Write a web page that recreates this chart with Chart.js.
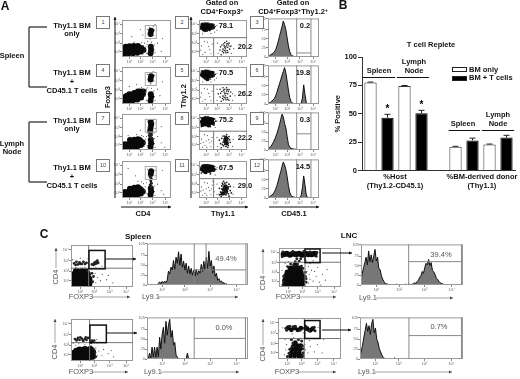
<!DOCTYPE html>
<html>
<head>
<meta charset="utf-8">
<title>Flow cytometry panels</title>
<script src="https://cdn.jsdelivr.net/npm/chart.js@4"></script>
<style>
  html, body { margin: 0; padding: 0; background: #fff; }
  #page { position: relative; width: 520px; height: 379px; overflow: hidden; filter: blur(.4px); font-family: "Liberation Sans", Arial, sans-serif; color: #111; }
  #page canvas { position: absolute; }
  #page svg { position: absolute; left: 0; top: 0; }
  .t { position: absolute; white-space: nowrap; transform: translate(-50%, -50%); font-weight: bold; font-size: 7.5px; line-height: 1; }
  .t sup { font-size: 5px; vertical-align: 2px; line-height: 0; }
  .big { font-size: 12px; }
  .c8 { font-size: 8px; }
  .thin { font-weight: normal; color: #555; font-size: 7.5px; }
  .rot { transform: translate(-50%, -50%) rotate(-90deg); }
  .box { position: absolute; width: 14px; height: 13px; border: 1px solid #777; box-sizing: border-box; font-size: 5.5px; text-align: center; line-height: 11px; color: #444; background: #fff; }
</style>
</head>
<body>
<div id="page"></div>
<script>
// ---- panel B ----
const barCategories = ['Spleen', 'Spleen', 'Lymph Node', 'Lymph Node', '', 'Spleen', 'Spleen', 'Lymph Node', 'Lymph Node'];
const bmOnly = [77.5, null, 74.5, null, null, 21, null, 23, null];
const bmTcells = [null, 46.5, null, 50.5, null, null, 26.5, null, 29];
const barErrors = [0.4, 3, 0.4, 2.5, 0, 0.3, 2, 0.3, 2];
const barStars = [1, 3];
const barTicks = [0, 25, 50, 75, 100];

// ---- decades on the flow axes ----
const decadeTicks = [0.6, 1.5, 2.5, 3.55];
const decadeLabels = ['10¹', '10²', '10³', '10⁴'];

// ---- panel A, CD4 vs Foxp3 ----
const a1Heavy = [[.2,.35],[.25,.75],[.3,1.1],[.55,.4],[.6,.8],[.6,1.15],[.9,.4],[.95,.8],[.95,1.2],[1.25,.45],[1.25,.85],[1.3,1.2],[1.55,.6],[1.6,.95],[.4,.55],[.75,.6],[1.1,.6],[1.4,.7],[.4,.95],[.78,1],[1.1,1],[1.45,1],[1.75,.75],[2.33,.4],[2.38,.75],[2.35,1.1],[2.33,2.5],[2.38,2.85]];
const a1Light = [[1.7,.3],[1.8,.55],[1.9,.8],[1.75,1.2],[1.95,1.1],[2,.4],[2.05,1.35],[1.85,1.5],[1.6,1.55],[2.1,1.7],[2.6,.8],[2.7,.5],[2.65,1.3],[2.4,1.6],[2.3,1.95],[2.15,2.4],[2.6,2.3],[2.65,2.9],[2.1,3],[2.25,3.2],[2.55,3.3],[2.7,3.5],[1.7,2.4],[1,1.6],[3.2,.6],[3.3,2],[1.5,3],[.8,2.2],[2.9,1.5],[2.2,1.1]];
const a2Heavy = [[.2,.35],[.25,.75],[.55,.35],[.6,.8],[.6,1.05],[.9,.4],[.95,.85],[1,1.2],[1.25,.5],[1.25,.95],[1.3,1.35],[1.55,.7],[1.55,1.35],[.4,.55],[.75,.6],[1.1,.7],[1.4,.75],[.4,.9],[.8,1],[1.12,1.1],[1.45,1.1],[1.7,1.05],[1.75,1.35],[2.33,.35],[2.38,.75],[2.35,1.05],[2.33,2.65],[2.38,3]];
const a2Light = [[1.75,.5],[1.85,.85],[1.9,1.25],[1.75,1.6],[2,.4],[2,1.6],[2.1,1.75],[1.6,1.8],[1.4,1.7],[2.65,.8],[2.7,.4],[2.6,1.4],[2.4,1.7],[2.3,2.05],[2.15,2.4],[2.6,2.5],[2.65,3.1],[2.1,3.2],[2.25,3.4],[2.55,3.5],[2.35,2.2],[1.2,2.1],[3.1,.9],[3.3,2.4],[.6,1.9],[2.9,1.6]];
const a3Heavy = [[.2,.3],[.25,.65],[.55,.3],[.6,.7],[.65,1.1],[.9,.35],[.95,.75],[1,1.15],[1.25,.4],[1.25,.8],[1.3,1.2],[1.55,.55],[1.55,.95],[.4,.5],[.75,.5],[1.1,.6],[1.4,.65],[.8,.95],[1.15,1],[1.45,1.1],[1.7,.8],[2.33,.35],[2.38,.75],[2.35,1.15],[2.33,2.45],[2.38,2.8],[2.35,3.1],[2.3,2.1]];
const a3Mid = [[2.3,1.5],[2.4,1.7],[2.35,1.9],[2.4,1.35],[2.25,1.65]];
const a3Light = [[1.8,.4],[1.85,.8],[1.9,1.2],[1.75,1.5],[2.05,.5],[2,1.5],[2.05,1.9],[1.6,1.6],[1.2,1.7],[2.65,.7],[2.7,.3],[2.65,1.3],[2.6,1.9],[2.15,2.5],[2.7,2.4],[2.7,3],[2.1,3.2],[2.6,3.4],[1.5,2.2],[3.2,.8],[3.2,2.6],[.5,1.6],[2.9,1.5],[3.5,.3]];
const a4Heavy = [[.2,.3],[.25,.65],[.55,.3],[.6,.7],[.65,1],[.9,.35],[.95,.75],[1,1.1],[1.25,.35],[1.25,.8],[1.3,1.15],[1.55,.5],[1.55,.9],[.4,.5],[.75,.5],[1.1,.55],[1.4,.6],[.8,.95],[1.15,.95],[1.45,1],[1.7,.7],[2.33,.35],[2.38,.7],[2.35,1.05],[2.35,2.6],[2.38,2.9]];
const a4Mid = [[2.3,1.4],[2.4,1.6],[2.35,1.85],[2.38,2.1],[2.3,2.3],[2.4,1.2]];
const a4Light = [[1.75,.4],[1.85,.8],[1.9,1.2],[1.75,1.55],[2.05,.5],[2,1.65],[2.05,2],[1.6,1.75],[1.3,1.8],[2.65,.7],[2.7,.3],[2.65,1.3],[2.6,2],[2.15,2.4],[2.7,2.4],[2.7,3],[2.1,3.1],[2.6,3.4],[1.1,2.4],[3.2,.8],[3.3,3],[.5,3.2],[2.9,1.5],[3.4,.4]];

// ---- panel A, Thy1.1 vs Thy1.2 ----
const b1Heavy = [[.25,3.2],[.35,3.45],[.4,3],[.5,3.3],[.6,3.5],[.65,3.1],[.75,3.3],[.85,3.05],[.9,3.45],[1,3.25],[1.1,3.4],[.55,2.95],[.3,3.5],[.45,3.15],[.7,3.4],[.95,3.15],[1.15,3.2]];
const b1Mid = [[.15,3],[.2,3.6],[.45,2.75],[.7,2.8],[1.2,3.15],[1.25,3.5],[1.35,3.3],[.9,2.85],[1.05,3],[.75,3.7],[.5,3.7],[2.1,1.2],[2.2,.9],[2.3,1.3],[2.15,1.55],[2.35,.7],[2,.85],[2.4,1.05],[2.25,.45],[1.9,1.3],[2.5,1.5],[2.55,.85],[2.05,.45],[2.3,1.7],[1.75,.75],[1.85,.25],[2.15,1.05],[2.25,1.1],[2.05,1.4],[2.4,.5],[2.2,.65],[1.95,.6],[2.45,1.3],[2.1,.7],[1.8,1.1],[2.35,1.45],[2.6,1.15]];
const b1Light = [[.2,1.2],[.5,.5],[.7,1.6],[.9,.8],[1.1,1.4],[.3,.3],[.45,1.7],[1,.35],[.8,1.15],[.15,.75],[1.55,1.5],[1.6,.4],[2.7,.4],[2.7,1.2],[2.9,.9],[1.5,3.4],[1.5,2.9],[.1,3.4],[1.3,2.7],[.3,2.5],[1,2.55]];
const b2Heavy = [[.25,3.15],[.35,3.45],[.4,3],[.5,3.3],[.6,3.5],[.65,3.05],[.75,3.3],[.85,3],[.9,3.4],[1,3.2],[1.1,3.35],[.55,2.9],[.7,2.7],[.45,3.15],[.7,3.45],[.95,3.05],[1.15,3.1]];
const b2Mid = [[.15,3.1],[.2,3.55],[.45,2.7],[.95,2.7],[1.2,3.1],[1.25,3.45],[1.35,3.2],[1.1,2.9],[.75,3.65],[.5,3.65],[2.1,1.3],[2.2,.9],[2.3,1.4],[2.15,1.6],[2.35,.7],[2,.85],[2.4,1.1],[2.25,.45],[1.9,1.35],[2.5,1.55],[2.6,.85],[2.05,.45],[2.3,1.75],[1.75,.75],[1.85,.3],[1.75,1.6],[2.65,1.3],[2,1.75],[2.5,.4],[1.6,1.1],[2.15,1.1],[2.25,1.15],[2.05,1.5],[2.4,.5],[2.2,.65],[1.95,.6],[2.45,1.35],[2.1,.7],[1.8,1.15],[2.35,1.55]];
const b2Light = [[.2,1.2],[.5,.5],[.7,1.6],[.9,.8],[1.1,1.4],[.3,.3],[.45,1.7],[1,.35],[.8,1.15],[.15,.75],[1.5,1.6],[1.5,.4],[2.8,.4],[2.8,1.1],[3,.9],[1.5,3.3],[1.45,2.8],[.1,3.4],[1.3,2.6],[.3,2.4],[1,2.4]];
const b3Heavy = [[.25,3.15],[.35,3.45],[.4,3],[.5,3.3],[.6,3.5],[.65,3.05],[.75,3.3],[.85,3],[.9,3.45],[1,3.2],[1.1,3.4],[.55,2.85],[.3,2.8],[1.15,3],[.8,2.75],[.45,3.15],[.7,3.45],[.95,3.05],[2.2,1],[2.3,.75],[2.25,1.3]];
const b3Mid = [[.15,3.6],[.2,2.6],[.95,2.6],[1.25,2.75],[1.3,3.45],[1.4,3.2],[.75,3.7],[.5,3.7],[2.1,1.2],[2.2,.9],[2.3,1.35],[2.15,1.55],[2.35,.7],[2,.85],[2.4,1.05],[2.25,.4],[1.9,1.3],[2.5,1.5],[2.6,.85],[2.05,.45],[2.3,1.7],[1.8,.7],[1.85,.25],[2.45,.5],[2.15,.65],[2.1,1],[2.35,1.15],[2.25,.7],[1.95,.6],[2.45,1.3],[2,1.55],[2.55,1.15],[1.7,1.1],[2.4,.3]];
const b3Light = [[.2,1.2],[.5,.5],[.7,1.6],[.9,.8],[1.1,1.4],[.3,.3],[.45,1.7],[1,.35],[.8,1.15],[.15,.75],[.6,1],[.35,.85],[1.05,1],[.65,.3],[1.5,1.4],[1.55,.4],[2.8,.4],[2.85,1.2],[1.5,3.2],[.1,3.3],[1.35,2.5]];
const b4Heavy = [[.25,3.1],[.35,3.4],[.4,2.95],[.5,3.25],[.6,3.45],[.65,3],[.75,3.25],[.85,2.95],[.9,3.4],[1,3.15],[1.1,3.35],[.55,2.8],[1.2,3.05],[.45,3.1],[.7,3.4],[.95,3],[2.1,.95],[2.25,.7],[2.2,1.25],[2,.5],[2.3,1.05]];
const b4Mid = [[.15,3.25],[.2,2.7],[.95,2.6],[1.3,3.4],[1.4,3.1],[.75,3.6],[.45,3.6],[2.1,1.2],[2.2,.8],[2.3,1.3],[2.15,1.6],[2.35,.6],[2,.8],[2.4,1],[2.25,.35],[1.9,1.3],[2.5,1.5],[2.6,.8],[2.05,.4],[2.3,1.7],[1.8,.65],[1.85,.2],[2.45,.45],[2.15,.6],[2.1,1],[2.35,1.1],[2.25,.75],[1.7,1.05],[1.95,1.6],[2.6,1.25],[1.7,.35],[2.5,.2],[2.7,.55],[2.05,1.8],[1.9,.95],[2.45,1.2],[1.8,.4],[2,1.45]];
const b4Light = [[.2,1.2],[.5,.5],[.7,1.6],[.9,.8],[1.1,1.4],[.3,.3],[.45,1.7],[1,.35],[.8,1.15],[.15,.75],[.6,1],[.35,.85],[1.05,1],[.65,.3],[1.5,1.5],[1.5,.4],[2.85,.4],[2.9,1.2],[1.5,3.3],[.1,3.4],[1.35,2.5],[1.25,.7],[1.15,1.8]];

// ---- panel C, FOXP3 vs CD4 ----
const c1Heavy = [[.15,.3],[.2,.75],[.25,1.2],[.5,.25],[.5,.7],[.5,1.15],[.85,.25],[.85,.7],[.85,1.2],[1.15,.3],[1.15,.75],[.35,1.5],[.7,1.5],[.33,.5],[.33,.95],[.68,.5],[.68,.95],[1,.5],[1,.95],[1.05,1.2],[.95,1.45]];
const c1Mid = [[.2,2.25],[.35,2.4],[.45,2.15],[.55,2.35],[.7,2.2],[.8,2.4],[.9,2.2],[1,2.3],[1.35,2.15],[1.5,2.3],[1.6,2.4],[1.7,2.5],[1.45,2.1],[1.75,2.3],[1.4,.5],[1.45,1],[1.35,1.3],[1.1,1.5],[.3,2.1],[.6,2.2],[1.55,2.2],[1.65,2.25]];
const c1Light = [[1.6,.4],[1.7,.9],[1.55,1.3],[1.9,.6],[2,1.2],[2.3,.7],[1.3,1.7],[.9,1.9],[.3,1.85],[2.4,1.1],[1.6,1.9],[2,2],[.1,2.6],[1.1,2.7],[.6,2.75],[2.7,.4],[2.2,2.4]];
const c2Heavy = [[.15,.3],[.2,.75],[.5,.25],[.5,.7],[.55,1.05],[.85,.25],[.85,.7],[.9,1.1],[1.15,.3],[1.2,.75],[1.25,1.1],[1.4,.45],[.33,.5],[.68,.5],[1,.5],[.35,.95],[.7,.9],[1.05,.9],[1.4,.85]];
const c2Mid = [[.25,2.1],[.35,1.95],[.45,2.2],[.55,2],[.7,2.15],[.8,1.9],[.9,2.1],[1,2],[1.1,2.2],[1.3,1.75],[1.4,1.85],[1.5,1.95],[1.35,1.95],[1.55,.8],[1.6,.4],[1.45,1.15],[.6,2.25],[.95,2.25],[.4,2.05],[.75,2]];
const c2Light = [[1.7,.5],[1.8,.95],[1.6,1.25],[2,.5],[2.1,1.1],[2.4,.7],[1.3,1.5],[.9,1.55],[.3,1.5],[2.6,1],[1.7,1.75],[.5,1.65],[1.2,2.4],[1.65,2.05],[2.75,.4],[.15,1.7]];
const c3Heavy = [[.3,3.35],[.5,3.4],[.7,3.3],[.9,3.4],[1.1,3.35],[1.3,3.4],[1.5,3.3],[1.7,3.4],[1.9,3.35],[2.1,3.35],[2.3,3.4],[.4,.3],[.65,.3],[.95,.3],[1.25,.3],[1.5,.3],[.4,.7],[.65,.7],[.95,.7],[1.25,.7],[1.5,.7],[.45,1.1],[.7,1.1],[1,1.1],[1.3,1.1],[1.5,1.1],[.55,1.5],[.8,1.5],[1.1,1.5],[1.4,1.5],[.75,1.9],[1.05,1.9],[1.3,1.9],[1.05,2.2]];
const c3Mid = [[.95,2.2],[1.2,2.35],[1.45,2.15],[1.05,2.6],[1.3,2.65],[1.15,2.9],[1.4,2.9],[.75,2.35],[1.55,1.9],[1.7,1.1],[1.75,.5],[.3,1.1],[.3,.55],[.55,2.1],[.25,3.6],[2.4,3.15],[1.6,3.65],[.9,3.65],[2,3.6],[2.45,3.55],[.2,3.1],[1.75,.85],[1.7,1.5],[.25,.2]];
const c3Light = [[1.9,.4],[2,.8],[1.95,1.3],[2.1,1.7],[1.9,2.1],[2.2,.6],[2.4,1.1],[2.6,.5],[2.3,1.6],[2.8,1.3],[1.8,1.6],[2,2.4],[1.75,2.7],[.6,2.6],[2.5,2],[3,.7],[.4,2.4],[3.1,1.8],[2.2,2.7],[.2,1.7],[2.7,.2]];
const c4Heavy = [[.65,3.05],[.85,2.85],[1.05,3.05],[1.25,2.85],[1.45,3],[1.85,2.95],[2.05,2.8],[2.2,2.95],[.8,.3],[1.05,.3],[1.3,.3],[1.5,.3],[.85,.6],[1.1,.6],[1.35,.6],[.9,.95],[1.15,.95],[1.4,.95],[1,1.3],[1.25,1.3],[1.45,1.3],[1.1,1.6]];
const c4Mid = [[.5,3],[.55,2.8],[.75,3.2],[1.1,3.2],[1.4,2.8],[2.3,3.1],[2.35,2.75],[1.75,3.2],[1.95,2.75],[.7,.55],[.6,.25],[.75,.95],[1.6,.6],[1.6,1],[1.55,.35],[1.55,1.3],[.9,1.25],[.95,1.55],[.85,1.9],[1.3,1.9],[1.5,1.75],[1.65,3],[.95,3.15]];
const c4Light = [[1.65,.4],[1.75,.9],[1.7,1.4],[1.9,.6],[2.05,1.2],[2,1.8],[2.3,.7],[.55,1.4],[.5,.9],[.45,1.9],[1,2.1],[1.4,2.05],[.4,.4],[2.5,1.4],[2.8,.6],[1.65,2],[.3,3.05],[1.6,2.55],[2.55,3.1],[.9,2.45],[2.9,1.9]];

// ---- histogram bins ----
const binsA = [0,.1,.2,.3,.4,.5,.6,.7,.8,.9,1,1.1,1.2,1.3,1.4,1.5,1.6,1.7,1.8,1.9,2,2.1,2.2,2.3,2.4,2.5,2.6,2.7,2.8,2.9,3,3.1,3.2,3.3,3.4,3.5,3.6,3.7,3.8,3.9,4];
const binsC = [0,.05,.1,.15,.2,.25,.3,.35,.4,.45,.5,.55,.6,.65,.7,.75,.8,.85,.9,.95,1,1.05,1.1,1.15,1.2,1.25,1.3,1.35,1.4,1.45,1.5,1.55,1.6,1.65,1.7,1.75,1.8,1.85,1.9,1.95,2,2.05,2.1,2.15,2.2,2.25,2.3,2.35,2.4,2.45,2.5,2.55,2.6,2.65,2.7,2.75,2.8,2.85,2.9,2.95,3,3.05,3.1,3.15,3.2,3.25,3.3,3.35,3.4,3.45,3.5,3.55,3.6,3.65,3.7,3.75,3.8,3.85,3.9,3.95,4];

// ---- panel A, CD45.1 ----
const histA1 = [0,3,6,8,10,14,20,30,42,56,70,82,98,88,74,52,30,15,7,3,2,1,0,0,0,0,0,0,0,0,0,0,0,0,0,0,0,0,0,0,0];
const histA2 = [0,3,5,8,11,15,22,32,44,55,66,78,88,99,84,62,38,18,7,3,1,0,0,0,0,0,1,16,52,26,4,1,0,0,0,0,0,0,0,0,0];
const histA3 = [3,6,9,14,20,28,36,46,58,70,86,100,92,74,62,38,16,8,5,4,3,2,2,1,1,0,0,0,0,0,0,0,0,0,0,0,0,0,0,0,0];
const histA4 = [0,3,6,8,11,16,24,34,46,60,72,86,98,90,78,58,34,16,7,4,3,2,1,1,1,2,6,28,60,36,8,2,1,0,0,0,0,0,0,0,0];

// ---- panel C, Ly9.1 ----
const histC1 = [0,0,0,0,0,0,0,0,0,4,8,3,9,5,10,6,12,35,28,45,38,62,40,70,55,84,50,78,45,60,38,55,30,48,28,42,25,38,22,40,26,36,30,52,34,60,38,70,42,85,48,62,30,48,22,30,12,16,8,10,4,6,2,3,0,0,0,0,0,0,0,0,0,0,0,0,0,0,0,0,0];
const histC2 = [0,0,15,0,30,5,30,4,30,6,55,25,62,80,40,95,60,85,100,55,72,35,42,10,5,0,0,0,0,0,0,0,15,0,0,0,0,0,0,0,0,0,0,0,0,0,0,0,0,0,0,0,0,0,0,0,0,0,0,0,0,0,0,0,0,0,0,0,0,0,0,0,0,0,0,0,0,0,0,0,0];
const histC3 = [12,30,45,58,72,52,88,60,78,58,75,92,62,72,42,40,24,15,9,4,3,2,1,1,1,0,1,1,2,1,1,0,1,1,1,2,1,2,2,1,2,3,6,4,9,12,20,24,35,30,45,56,52,66,50,58,38,34,28,18,15,10,6,4,3,1,1,0,0,0,0,0,0,0,0,0,0,0,0,0,0];
const histC4 = [8,20,35,55,72,90,70,84,62,88,100,66,78,50,42,26,18,10,4,2,1,0,0,0,0,0,0,3,0,0,0,0,0,0,0,0,0,0,0,0,0,0,0,0,0,0,0,0,0,0,0,0,0,0,0,0,0,0,0,0,0,0,0,0,0,0,0,0,0,0,0,0,0,0,0,0,0,0,0,0,0];

// gates in axis units: [x1, y1, x2, y2]
const gateCd4 = [[1.9,2],[2.8,3.4]];
const gateThy = [[0,2.09,4,2.09],[1.22,0,1.22,2.09]];
const gateCd45 = [[2.25,0,2.25,4],[3.37,0,3.37,4]];
const gateLyHigh = [[1.87,0,1.87,4],[2.34,1.5,2.34,4],[3.92,0,3.92,4],[1.87,1.45,3.92,1.45]];
const gateLyLow = [[1.87,0,1.87,4],[3.9,0,3.9,4],[1.87,1.98,3.9,1.98]];
const gateLyC3 = [[1.87,0,1.87,4],[3.94,0,3.94,4],[1.87,2.3,3.94,2.3]];
const gateLyC4 = [[1.9,0,1.9,4],[3.94,0,3.94,4],[1.9,2.25,3.94,2.25]];

const page = document.getElementById('page');

function newCanvas(x, y, w, h) {
  const c = document.createElement('canvas');
  c.width = w; c.height = h;
  c.style.left = x + 'px'; c.style.top = y + 'px';
  page.appendChild(c);
  return c;
}

function flowAxis(size, horizontal) {
  return {
    type: 'linear', min: 0, max: 4,
    afterBuildTicks: s => { s.ticks = decadeTicks.map(value => ({ value })); },
    afterFit: s => { if (horizontal) s.height = size; else s.width = size; },
    border: { display: false },
    grid: { drawOnChartArea: false, tickLength: 2, tickColor: '#555', tickWidth: .7 },
    ticks: {
      autoSkip: false, maxRotation: 0, padding: 0, color: '#666', font: { size: 4 },
      callback: (v, i) => decadeLabels[i]
    }
  };
}

// gray frame and gates, drawn through the panel's scales
const framePlugin = {
  id: 'frame',
  afterDatasetsDraw(chart, args, opts) {
    const { ctx, chartArea: a, scales: { x, y } } = chart;
    ctx.save();
    ctx.strokeStyle = '#9a9a9a';
    ctx.lineWidth = 1;
    ctx.strokeRect(a.left + .5, a.top + .5, a.width - 1, a.height - 1);
    ctx.strokeStyle = opts.color || '#777';
    ctx.lineWidth = 1;
    (opts.lines || []).forEach(l => {
      ctx.beginPath();
      ctx.moveTo(x.getPixelForValue(l[0]), y.getPixelForValue(l[1]));
      ctx.lineTo(x.getPixelForValue(l[2]), y.getPixelForValue(l[3]));
      ctx.stroke();
    });
    (opts.rects || []).forEach(r => {
      ctx.strokeStyle = opts.rectColor || '#999';
      ctx.lineWidth = opts.rectWidth || 1;
      ctx.strokeRect(x.getPixelForValue(r[0][0]), y.getPixelForValue(r[1][1]),
        x.getPixelForValue(r[1][0]) - x.getPixelForValue(r[0][0]),
        y.getPixelForValue(r[0][1]) - y.getPixelForValue(r[1][1]));
    });
    ctx.restore();
  }
};

function dotPlot(r, heavy, mid, light, sizes, gates) {
  const pts = a => a.map(p => ({ x: p[0], y: p[1] }));
  const cv = newCanvas(r[0] - 8, r[1] - 2, r[2] + 10, r[3] + 9);
  return new Chart(cv, {
    type: 'scatter',
    data: {
      datasets: [
        { data: pts(light), pointRadius: .6, backgroundColor: '#555', pointBorderWidth: 0 },
        { data: pts(mid), pointRadius: sizes[1], backgroundColor: '#222', pointBorderWidth: 0 },
        { data: pts(heavy), pointRadius: sizes[0], backgroundColor: '#0a0a0a', pointBorderWidth: 0 }
      ]
    },
    options: {
      responsive: false, animation: false, events: [],
      layout: { padding: { top: 2, right: 2 } },
      plugins: { legend: { display: false }, tooltip: { enabled: false }, frame: gates },
      scales: { x: flowAxis(7, true), y: flowAxis(8, false) }
    },
    plugins: [framePlugin]
  });
}

function histPlot(r, bins, values, lineW, gates) {
  const cv = newCanvas(r[0] - 8, r[1] - 2, r[2] + 10, r[3] + 9);
  const yAxis = {
    type: 'linear', min: 0, max: 105,
    afterFit: s => { s.width = 8; },
    border: { display: false },
    grid: { drawOnChartArea: false, tickLength: 2, tickColor: '#555', tickWidth: .7 },
    ticks: { stepSize: 25, padding: 0, color: '#666', font: { size: 4 } }
  };
  return new Chart(cv, {
    type: 'line',
    data: {
      datasets: [{
        data: bins.map((x, i) => ({ x, y: values[i] })),
        borderColor: '#111', borderWidth: lineW, backgroundColor: '#777',
        fill: 'origin', pointRadius: 0, tension: 0
      }]
    },
    options: {
      responsive: false, animation: false, events: [],
      layout: { padding: { top: 2, right: 2 } },
      plugins: { legend: { display: false }, tooltip: { enabled: false }, frame: gates },
      scales: {
        x: flowAxis(7, true),
        y: yAxis,
      }
    },
    plugins: [{
      // gates are in decades on both axes, the y scale here holds counts
      id: 'frame',
      afterDatasetsDraw(chart, args, opts) {
        const { ctx, chartArea: a, scales: { x } } = chart;
        const gy = v => a.bottom - (v / 4) * a.height;
        ctx.save();
        ctx.strokeStyle = '#9a9a9a';
        ctx.lineWidth = 1;
        ctx.strokeRect(a.left + .5, a.top + .5, a.width - 1, a.height - 1);
        ctx.strokeStyle = '#888';
        (opts.lines || []).forEach(l => {
          ctx.beginPath();
          ctx.moveTo(x.getPixelForValue(l[0]), gy(l[1]));
          ctx.lineTo(x.getPixelForValue(l[2]), gy(l[3]));
          ctx.stroke();
        });
        ctx.restore();
      }
    }]
  });
}

// panel A
const cd4Gate = { rects: [gateCd4], rectColor: '#aaa' };
dotPlot([122, 18, 51, 39], a1Heavy, [], a1Light, [3, 1], cd4Gate);
dotPlot([122, 65, 51, 39], a2Heavy, [], a2Light, [3, 1], cd4Gate);
dotPlot([122, 112, 51, 38], a3Heavy, a3Mid, a3Light, [3, 1.6], cd4Gate);
dotPlot([122, 159, 51, 39], a4Heavy, a4Mid, a4Light, [3, 1.5], cd4Gate);
const thyGate = { lines: gateThy };
dotPlot([199, 18, 50, 39], b1Heavy, b1Mid, b1Light, [2.2, .8], thyGate);
dotPlot([199, 65, 50, 39], b2Heavy, b2Mid, b2Light, [2.2, .8], thyGate);
dotPlot([199, 112, 50, 38], b3Heavy, b3Mid, b3Light, [2.2, .85], thyGate);
dotPlot([199, 159, 50, 39], b4Heavy, b4Mid, b4Light, [2.2, .9], thyGate);
histPlot([268, 18, 51, 39], binsA, histA1, 1, { lines: gateCd45.concat([[2.25, .42, 3.37, .42]]) });
histPlot([268, 65, 51, 39], binsA, histA2, 1, { lines: gateCd45 });
histPlot([268, 112, 51, 38], binsA, histA3, 1, { lines: gateCd45.concat([[2.25, 1.72, 3.37, 1.72]]) });
histPlot([268, 159, 51, 39], binsA, histA4, 1, { lines: gateCd45 });

// panel C
const boldGate = lines => Object.assign({ rectColor: '#111', rectWidth: 1.5 }, lines);
dotPlot([71, 243, 64, 44], c1Heavy, c1Mid, c1Light, [3.6, 1.4], boldGate({ lines: [[1.14, 0, 1.14, 4], [0, 1.79, 4, 1.79]], rects: [[[1.16, 1.73], [2.2, 3.48]]] }));
dotPlot([71, 317, 64, 44], c2Heavy, c2Mid, c2Light, [3.4, 1.3], boldGate({ lines: [[1.2, 0, 1.2, 4], [0, 1.75, 4, 1.75]], rects: [[[1.22, 1.75], [2.28, 3.42]]] }));
dotPlot([279, 246, 64, 41], c3Heavy, c3Mid, c3Light, [3, 1.4], boldGate({ lines: [[1.68, 0, 1.68, 4], [0, 2.54, 4, 2.54]], rects: [[[1.68, 2.5], [2.65, 3.9]]] }));
dotPlot([278, 316, 65, 43], c4Heavy, c4Mid, c4Light, [2.4, 1.5], boldGate({ lines: [[1.67, 0, 1.67, 4], [0, 2, 4, 2]], rects: [[[1.7, 2], [2.67, 3.75]]] }));
histPlot([147, 243, 101, 42], binsC, histC1, 1, { lines: gateLyHigh });
histPlot([147, 317, 101, 42], binsC, histC2, 1, { lines: gateLyLow });
histPlot([361, 244, 102, 41], binsC, histC3, 1, { lines: gateLyC3 });
histPlot([360, 317, 103, 42], binsC, histC4, 1, { lines: gateLyC4 });

// panel B
const barGroups = [[-.45, 1.45, 82.5], [1.55, 3.45, 82.5], [4.6, 6.45, 36], [6.55, 8.45, 36]];
const barCv = newCanvas(333, 50, 187, 126);
new Chart(barCv, {
  type: 'bar',
  data: {
    labels: barCategories,
    datasets: [
      { label: 'BM only', data: bmOnly, backgroundColor: '#fff', borderColor: '#333', borderWidth: 1 },
      { label: 'BM + T cells', data: bmTcells, backgroundColor: '#000', borderColor: '#000', borderWidth: 1 }
    ]
  },
  options: {
    responsive: false, animation: false, events: [],
    layout: { padding: { top: 7, right: 5 } },
    datasets: { bar: { grouped: false, barPercentage: .72, categoryPercentage: 1 } },
    plugins: { legend: { display: false }, tooltip: { enabled: false } },
    scales: {
      x: {
        afterFit: s => { s.height = 5; },
        ticks: { display: false },
        grid: { display: false },
        border: { color: '#333', width: 1 }
      },
      y: {
        min: 0, max: 100,
        afterBuildTicks: s => { s.ticks = barTicks.map(value => ({ value })); },
        afterFit: s => { s.width = 29; },
        title: { display: true, text: '% Positive', color: '#111', padding: 0, font: { size: 7.5, weight: 'bold', family: 'Liberation Sans' } },
        ticks: { color: '#111', padding: 1, font: { size: 7.5, weight: 'bold', family: 'Liberation Sans' } },
        grid: { drawOnChartArea: false, tickLength: 4, tickColor: '#333' },
        border: { color: '#333', width: 1 }
      }
    }
  },
  plugins: [{
    id: 'barExtras',
    afterDatasetsDraw(chart) {
      const { ctx, scales: { x, y } } = chart;
      ctx.save();
      ctx.strokeStyle = '#222';
      ctx.lineWidth = 1;
      barErrors.forEach((e, i) => {
        const v = bmOnly[i] ?? bmTcells[i];
        if (v == null) return;
        const px = x.getPixelForValue(i);
        const top = y.getPixelForValue(v + e);
        ctx.beginPath();
        ctx.moveTo(px, y.getPixelForValue(v));
        ctx.lineTo(px, top);
        ctx.moveTo(px - 3, top);
        ctx.lineTo(px + 3, top);
        ctx.stroke();
      });
      ctx.strokeStyle = '#111';
      barGroups.forEach(g => {
        const py = Math.round(y.getPixelForValue(g[2])) + .5;
        ctx.beginPath();
        ctx.moveTo(x.getPixelForValue(g[0]), py);
        ctx.lineTo(x.getPixelForValue(g[1]), py);
        ctx.stroke();
      });
      ctx.fillStyle = '#000';
      ctx.font = 'bold 10px "Liberation Sans"';
      ctx.textAlign = 'center';
      barStars.forEach(i => {
        const v = bmTcells[i] + barErrors[i];
        ctx.fillText('*', x.getPixelForValue(i), y.getPixelForValue(v) - 2);
      });
      ctx.restore();
    }
  }]
});

// ---- text ----
const notes = [
  ['A', 5, 6, 'big'], ['B', 343, 5, 'big'], ['C', 44, 234, 'big'],
  ['Spleen', 12, 56], ['Lymph', 12, 144], ['Node', 12, 152],
  ['Thy1.1 BM', 72, 26], ['only', 72, 34], ['Thy1.1 BM', 72, 73], ['+', 72, 82], ['CD45.1 T cells', 72, 91],
  ['Thy1.1 BM', 72, 121], ['only', 72, 129], ['Thy1.1 BM', 72, 168], ['+', 72, 177], ['CD45.1 T cells', 72, 186],
  ['Gated on', 222, 3], ['CD4<sup>+</sup>Foxp3<sup>+</sup>', 222, 12], ['Gated on', 293, 3], ['CD4<sup>+</sup>Foxp3<sup>+</sup>Thy1.2<sup>+</sup>', 293, 12],
  ['Foxp3', 108, 97, 'rot'], ['Thy1.2', 184, 96, 'rot'], ['CD4', 143, 214], ['Thy1.1', 223, 214], ['CD45.1', 294, 214],
  ['78.1', 226, 26], ['20.2', 245, 47], ['70.5', 226, 73], ['26.2', 245, 94], ['75.2', 226, 120], ['22.2', 245, 138], ['67.5', 226, 168], ['29.0', 245, 186],
  ['0.2', 305, 26], ['19.8', 303, 73], ['0.3', 305, 120], ['14.5', 303, 167],
  ['T cell Replete', 431, 45], ['Spleen', 379, 71], ['Lymph', 414, 62], ['Node', 414, 71], ['Spleen', 463, 124], ['Lymph', 498, 115], ['Node', 498, 124],
  ['%Host', 395, 177], ['(Thy1.2-CD45.1)', 395, 186], ['%BM-derived donor', 482, 177], ['(Thy1.1)', 482, 186],
  ['Spleen', 138, 237, 'c8'], ['LNC', 349, 236, 'c8'],
  ['FOXP3', 81, 297, 'thin'], ['Ly9.1', 151, 297, 'thin'], ['FOXP3', 81, 372, 'thin'], ['Ly9.1', 153, 372, 'thin'],
  ['FOXP3', 288, 297, 'thin'], ['Ly9.1', 368, 298, 'thin'], ['FOXP3', 287, 372, 'thin'], ['Ly9.1', 367, 372, 'thin'],
  ['CD4', 56, 277, 'thin rot'], ['CD4', 55, 352, 'thin rot'], ['CD4', 263, 283, 'thin rot'], ['CD4', 263, 354, 'thin rot'],
  ['49.4%', 226, 259, 'thin'], ['0.0%', 224, 328, 'thin'], ['39.4%', 441, 255, 'thin'], ['0.7%', 439, 327, 'thin']
];
notes.forEach(n => {
  const d = document.createElement('div');
  d.className = 't ' + (n[3] || '');
  d.innerHTML = n[0];
  d.style.left = n[1] + 'px';
  d.style.top = n[2] + 'px';
  page.appendChild(d);
});

const panelNumbers = [['1', 96, 16], ['4', 96, 64], ['7', 96, 112], ['10', 96, 159], ['2', 175, 16], ['5', 175, 64], ['8', 175, 112], ['11', 175, 159], ['3', 250, 16], ['6', 250, 64], ['9', 250, 112], ['12', 250, 159]];
panelNumbers.forEach(n => {
  const d = document.createElement('div');
  d.className = 'box';
  d.textContent = n[0];
  d.style.left = n[1] + 'px';
  d.style.top = n[2] + 'px';
  page.appendChild(d);
});

// legend of panel B, from the bar series names
[['BM only', 67, '#fff'], ['BM + T cells', 75.5, '#000']].forEach(l => {
  const k = document.createElement('div');
  k.style.cssText = `position:absolute;left:452px;top:${l[1]}px;width:15px;height:5px;box-sizing:border-box;border:1px solid #222;background:${l[2]}`;
  page.appendChild(k);
  const d = document.createElement('div');
  d.className = 't';
  d.textContent = l[0];
  d.style.cssText = `left:469px;top:${l[1] + 2.5}px;transform:translate(0,-50%)`;
  page.appendChild(d);
});

// ---- brackets and arrows, no data in these ----
const svgLines = [
  [47, 27, 29, 27, 1.2], [29, 27, 29, 87, 1.2], [29, 87, 47, 87, 1.2],
  [47, 122, 29, 122, 1.2], [29, 122, 29, 182, 1.2], [29, 182, 47, 182, 1.2]
];
const svgArrows = [
  [115, 198, 115, 17, 1, '#111'], [191, 198, 191, 17, 1, '#111'],
  [121, 207, 171, 207, 1, '#111'], [199, 207, 248, 207, 1, '#111'], [269, 207, 319, 207, 1, '#111'],
  [106, 259, 136, 259, 1, '#111'], [107, 333, 137, 333, 1, '#111'], [322, 253, 352, 253, 1, '#111'], [322, 330, 351, 330, 1, '#111'],
  [92, 297, 130, 297, .5, '#444'], [158, 297, 238, 297, .5, '#444'], [92, 372, 128, 372, .5, '#444'], [161, 372, 239, 372, .5, '#444'],
  [299, 297, 336, 297, .5, '#444'], [376, 298, 453, 298, .5, '#444'], [298, 372, 336, 372, .5, '#444'], [375, 372, 452, 372, .5, '#444'],
  [56, 268, 56, 248, .5, '#444'], [55, 343, 55, 319, .5, '#444'], [263, 274, 263, 249, .5, '#444'], [263, 345, 263, 319, .5, '#444']
];
let svg = '<svg width="520" height="379" xmlns="http://www.w3.org/2000/svg">';
svgLines.forEach(l => {
  svg += `<line x1="${l[0]}" y1="${l[1]}" x2="${l[2]}" y2="${l[3]}" stroke="#222" stroke-width="${l[4]}"/>`;
});
svgArrows.forEach(l => {
  const dx = Math.sign(l[2] - l[0]), dy = Math.sign(l[3] - l[1]);
  svg += `<line x1="${l[0]}" y1="${l[1]}" x2="${l[2]}" y2="${l[3]}" stroke="${l[5]}" stroke-width="${l[4]}"/>`;
  svg += `<path d="M${l[2]} ${l[3]} L${l[2] - dx * 3 - dy * 1.5} ${l[3] - dy * 3 - dx * 1.5} L${l[2] - dx * 3 + dy * 1.5} ${l[3] - dy * 3 + dx * 1.5} Z" fill="${l[5]}"/>`;
});
svg += '</svg>';
page.insertAdjacentHTML('beforeend', svg);
</script>
</body>
</html>
